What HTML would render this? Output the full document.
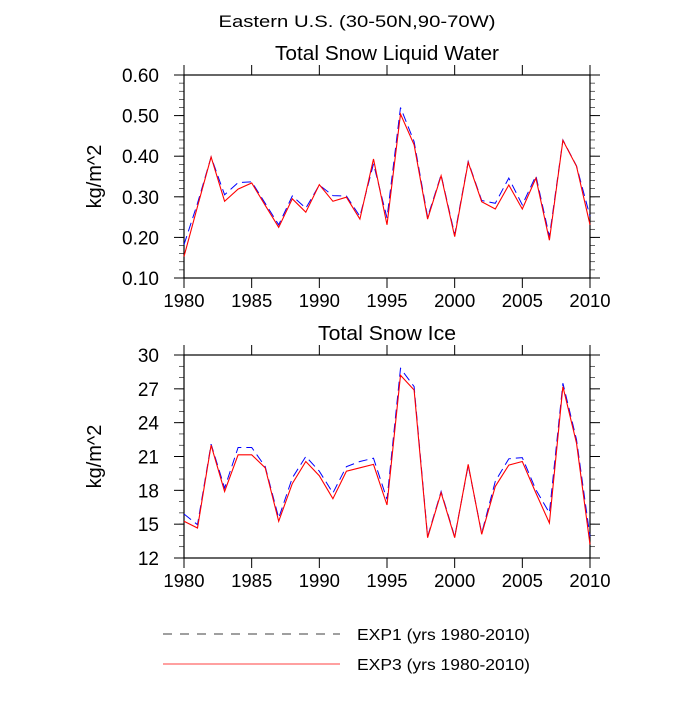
<!DOCTYPE html>
<html><head><meta charset="utf-8"><style>
body{margin:0;background:#fff;}
svg text{font-family:"Liberation Sans",sans-serif;fill:#000;}
</style></head><body>
<svg id="chart" width="700" height="700" viewBox="0 0 700 700" xmlns="http://www.w3.org/2000/svg">
<text x="357" y="27" font-size="17" text-anchor="middle" textLength="277" lengthAdjust="spacingAndGlyphs">Eastern U.S. (30-50N,90-70W)</text>
<g id="p1"></g>
<g id="p2"></g>
<g>
<line x1="163" y1="634" x2="340" y2="634" stroke="#000" stroke-width="0.8" stroke-dasharray="9,8"/>
<text x="357" y="640" font-size="16" textLength="173" lengthAdjust="spacingAndGlyphs">EXP1 (yrs 1980-2010)</text>
<line x1="163" y1="664" x2="340" y2="664" stroke="#f00" stroke-width="0.8"/>
<text x="357" y="670" font-size="16" textLength="173" lengthAdjust="spacingAndGlyphs">EXP3 (yrs 1980-2010)</text>
</g>
</svg>
<script>
const years=[];for(let y=1980;y<=2010;y++)years.push(y);
const xTicks=[1980,1985,1990,1995,2000,2005,2010];
const swExp1=[0.182,0.284,0.398,0.305,0.335,0.337,0.284,0.231,0.302,0.272,0.329,0.303,0.302,0.252,0.381,0.248,0.520,0.436,0.250,0.354,0.207,0.387,0.291,0.284,0.346,0.280,0.352,0.202,0.440,0.376,0.252];
const swExp3=[0.153,0.276,0.398,0.289,0.319,0.334,0.279,0.225,0.295,0.262,0.330,0.289,0.299,0.245,0.393,0.231,0.504,0.428,0.245,0.352,0.202,0.385,0.288,0.270,0.329,0.270,0.346,0.193,0.439,0.375,0.231];
const swTicks=[0.1,0.2,0.3,0.4,0.5,0.6];
const siExp1=[15.9,14.95,22.1,18.2,21.8,21.8,20.1,15.55,19.1,21.0,19.7,17.76,20.1,20.56,20.85,17.2,28.8,27.2,13.9,17.9,13.9,20.2,14.2,18.8,20.8,20.9,18.05,16.0,27.5,22.5,13.9];
const siExp3=[15.25,14.66,22.0,17.9,21.15,21.15,20.0,15.25,18.6,20.56,19.3,17.26,19.7,20.0,20.3,16.7,28.2,26.9,13.8,17.8,13.8,20.3,14.1,18.35,20.24,20.56,17.76,15.1,27.2,22.2,13.2];
const siTicks=[12,15,18,21,24,27,30];
const NS="http://www.w3.org/2000/svg";
function mk(parent,tag,attrs){const e=document.createElementNS(NS,tag);for(const k in attrs)e.setAttribute(k,attrs[k]);parent.appendChild(e);return e;}
function panel(g,top,bottom,ymin,ymax,yticks,minorStep,dec,title,e1,e3,nm,tlen){
  const L=184,R=590;
  const xs=v=>L+(v-1980)/30*(R-L);
  const ys=v=>bottom-(v-ymin)/(ymax-ymin)*(bottom-top);
  const t=mk(g,'text',{x:387,y:top-15,'font-size':20,'text-anchor':'middle',textLength:tlen,lengthAdjust:'spacingAndGlyphs'});t.textContent=title;
  
  
  const fr=mk(g,'rect',{x:L,y:top,width:R-L,height:bottom-top,fill:'none',stroke:'#000','stroke-width':1.2});
  
  
  for(let v=ymin;v<=ymax+1e-9;v+=minorStep){const y=ys(v);
    mk(g,'line',{x1:L-5,x2:L,y1:y,y2:y,stroke:'#000','stroke-width':0.6});
    mk(g,'line',{x1:R,x2:R+5,y1:y,y2:y,stroke:'#000','stroke-width':0.6});}
  yticks.forEach(v=>{const y=ys(v);
    mk(g,'line',{x1:L-10,x2:L,y1:y,y2:y,stroke:'#000','stroke-width':1});
    mk(g,'line',{x1:R,x2:R+10,y1:y,y2:y,stroke:'#000','stroke-width':1});
    const tx=mk(g,'text',{x:159,y:y+7,'font-size':19,'text-anchor':'end'});tx.textContent=v.toFixed(dec);
    
    });
  xTicks.forEach(v=>{const x=xs(v);
    mk(g,'line',{x1:x,x2:x,y1:top-10,y2:top,stroke:'#000','stroke-width':1});
    mk(g,'line',{x1:x,x2:x,y1:bottom,y2:bottom+10,stroke:'#000','stroke-width':1});
    const tx=mk(g,'text',{x:x,y:bottom+29,'font-size':18.5,'text-anchor':'middle'});tx.textContent=v;
    
    });
  const yt=mk(g,'text',{x:0,y:0,'font-size':20,'text-anchor':'middle',transform:`translate(101,${(top+bottom)/2}) rotate(-90)`});yt.textContent='kg/m^2';
  
  
  const pts=a=>a.map((v,i)=>xs(years[i]).toFixed(1)+','+ys(v).toFixed(1)).join(' ');
  const l1=mk(g,'polyline',{points:pts(e1),fill:'none',stroke:'#00f','stroke-width':1,'stroke-dasharray':'9,5'});
  
  
  const l3=mk(g,'polyline',{points:pts(e3),fill:'none',stroke:'#f00','stroke-width':1.1});
  
  
}
panel(document.getElementById('p1'),75,278,0.1,0.6,swTicks,0.02,2,'Total Snow Liquid Water',swExp1,swExp3,'liquid-water',224);
panel(document.getElementById('p2'),355,558,12,30,siTicks,1,0,'Total Snow Ice',siExp1,siExp3,'snow-ice',138);
</script>
</body></html>
